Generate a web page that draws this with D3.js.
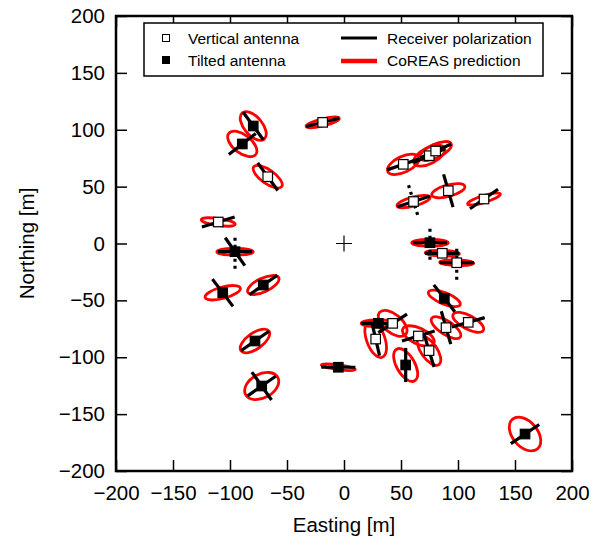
<!DOCTYPE html>
<html>
<head>
<meta charset="utf-8">
<script src="https://cdn.jsdelivr.net/npm/d3@7"></script>
<style>
body { margin: 0; background: #fff; }
text { font-family: "Liberation Sans", Arial, Helvetica, sans-serif; fill: #000; }
</style>
</head>
<body>
<script>
// station positions [m]
var stationX = [-18.7, -79.6, -89.2, -66.9, 52.0, 74.8, 80.4, 91.5, 61.0, 122.8,
                75.4, 86.2, 98.9, 88.0, 109.0, 89.5, 30.1, 27.8, 42.7, 65.2,
                74.6, 54.1, -78.1, -72.2, -5.0, -110.3, -95.6, -106.4, -70.8, 158.8];
var stationY = [106.5, 103.3, 87.5, 58.7, 69.6, 77.2, 81.3, 46.4, 36.9, 39.1,
                0.7, -8.6, -16.9, -48.2, -69.3, -74.0, -70.2, -84.0, -70.2, -81.3,
                -94.2, -106.8, -85.7, -125.3, -108.8, 18.9, -7.2, -43.3, -36.5, -167.5];
// V = vertical antenna, T = tilted antenna
var stationType = ["V","T","T","V","V","V","V","V","V","V",
                   "T","V","V","T","V","V","T","V","V","V",
                   "V","T","T","T","T","V","T","T","T","T"];
// measured receiver polarization [deg from east]
var polAngle = [14, -54, 38, -54, 19, 24, 24, -74, 18, 35,
                0, 0, 0, -52, 16, -74, 0, -77, 33, 17,
                -73, 90, 35, -55, 0, 17, 0, -53, 35, 34];
var polAngle2 = [null, null, null, null, null, null, null, null, null, null,
                 null, null, null, null, null, null, null, null, null, null,
                 null, null, null, 35, null, null, -55, null, null, null];
var dotAngle = [null, null, null, null, null, null, null, null, -73, null,
                90, null, 90, null, null, null, null, null, null, null,
                null, null, null, null, null, null, 90, null, null, null];
// CoREAS prediction ellipse
var ellAngle = [14, -50, -38, -35, 25, 27, 25, 15, 15, 17,
                0, -2, -2, -22, -28, -33, 0, -70, -40, -25,
                -55, -60, 35, 28, -8, -8, 0, 15, 25, -50];
var ellMajor = [15, 15, 15, 15, 15, 15, 15, 15, 15, 15,
                16, 15, 15, 15, 15, 15, 15, 17, 15, 15,
                15, 16, 15, 16, 15, 15, 16, 16, 15, 17];
var ellMinor = [3, 8, 8, 6, 7, 7, 6, 5, 4, 3,
                3, 2.5, 2.5, 5, 6, 6, 3, 8, 8, 7,
                7, 8, 7, 10.5, 2, 3, 3, 5, 6, 11];

var tickValues = [-200, -150, -100, -50, 0, 50, 100, 150, 200];

(function(){
    var width = 605, height = 540,
        pLeft = 116, pRight = 572, pTop = 16, pBottom = 471,
        halfLen = 15;

    var svg = d3.select("body").append("svg")
        .attr("width", width)
        .attr("height", height);

    var x = d3.scaleLinear().domain([-200, 200]).range([pLeft, pRight]);
    var y = d3.scaleLinear().domain([-200, 200]).range([pBottom, pTop]);

    var stations = stationX.map(function(d, i){
        return {x: d, y: stationY[i], type: stationType[i], pol: polAngle[i],
                pol2: polAngle2[i], dot: dotAngle[i], ea: ellAngle[i],
                a: ellMajor[i], b: ellMinor[i]};
    });

    // axes with inward ticks
    function styleAxis(g){
        g.select(".domain").remove();
        g.selectAll(".tick line").attr("stroke", "#000").attr("stroke-width", 1.5);
        g.selectAll(".tick text").style("font-size", "20.5px")
            .style("font-family", "'Liberation Sans', Arial, sans-serif");
    }
    svg.append("g").attr("transform", "translate(0," + pBottom + ")")
        .call(d3.axisBottom(x).tickValues(tickValues).tickSizeInner(-11).tickSizeOuter(0).tickPadding(14))
        .call(styleAxis);
    svg.append("g").attr("transform", "translate(" + pLeft + ",0)")
        .call(d3.axisLeft(y).tickValues(tickValues).tickSizeInner(-11).tickSizeOuter(0).tickPadding(11))
        .call(styleAxis);
    svg.append("g").attr("transform", "translate(0," + pTop + ")")
        .call(d3.axisTop(x).tickValues(tickValues).tickSizeInner(-11).tickSizeOuter(0).tickFormat(""))
        .call(styleAxis);
    svg.append("g").attr("transform", "translate(" + pRight + ",0)")
        .call(d3.axisRight(y).tickValues(tickValues).tickSizeInner(-11).tickSizeOuter(0).tickFormat(""))
        .call(styleAxis);

    svg.append("rect")
        .attr("x", pLeft).attr("y", pTop)
        .attr("width", pRight - pLeft).attr("height", pBottom - pTop)
        .attr("fill", "none").attr("stroke", "#000").attr("stroke-width", 2.5);

    // axis titles
    svg.append("text")
        .attr("x", (pLeft + pRight) / 2).attr("y", 532)
        .attr("text-anchor", "middle")
        .style("font-size", "20.5px")
        .text("Easting [m]");
    svg.append("text")
        .attr("transform", "translate(34," + ((pTop + pBottom) / 2) + ")rotate(-90)")
        .attr("text-anchor", "middle")
        .style("font-size", "20.5px")
        .text("Northing [m]");

    // shower core cross
    svg.append("path")
        .attr("d", "M" + (x(0) - 8) + "," + y(0) + "H" + (x(0) + 8) +
                   "M" + x(0) + "," + (y(0) - 8) + "V" + (y(0) + 8))
        .attr("stroke", "#000").attr("stroke-width", 1.2);

    // CoREAS ellipses
    svg.selectAll(".ell")
        .data(stations)
        .enter()
        .append("ellipse")
        .attr("class", "ell")
        .attr("cx", 0).attr("cy", 0)
        .attr("rx", function(d){ return x(d.a) - x(0); })
        .attr("ry", function(d){ return y(0) - y(d.b); })
        .attr("transform", function(d){
            return "translate(" + x(d.x) + "," + y(d.y) + ")rotate(" + (-d.ea) + ")";
        })
        .attr("fill", "none")
        .attr("stroke", "#f00")
        .attr("stroke-width", 2.8);

    function polLine(d, ang){
        var r = ang * Math.PI / 180,
            dx = halfLen * Math.cos(r), dy = halfLen * Math.sin(r);
        return "M" + x(d.x - dx) + "," + y(d.y - dy) + "L" + x(d.x + dx) + "," + y(d.y + dy);
    }

    // dotted directions
    svg.selectAll(".dot")
        .data(stations.filter(function(d){ return d.dot !== null; }))
        .enter()
        .append("path")
        .attr("class", "dot")
        .attr("d", function(d){ return polLine(d, d.dot); })
        .attr("stroke", "#000")
        .attr("stroke-width", 3.2)
        .attr("stroke-dasharray", "3,4");

    // receiver polarization
    svg.selectAll(".pol")
        .data(stations)
        .enter()
        .append("path")
        .attr("class", "pol")
        .attr("d", function(d){ return polLine(d, d.pol); })
        .attr("stroke", "#000")
        .attr("stroke-width", 3.2);

    svg.selectAll(".pol2")
        .data(stations.filter(function(d){ return d.pol2 !== null; }))
        .enter()
        .append("path")
        .attr("class", "pol2")
        .attr("d", function(d){ return polLine(d, d.pol2); })
        .attr("stroke", "#000")
        .attr("stroke-width", 3.2);

    // antenna markers
    var ms = 9.5;
    svg.selectAll(".ant")
        .data(stations)
        .enter()
        .append("rect")
        .attr("class", "ant")
        .attr("x", function(d){ return x(d.x) - ms / 2; })
        .attr("y", function(d){ return y(d.y) - ms / 2; })
        .attr("width", ms).attr("height", ms)
        .attr("fill", function(d){ return d.type === "V" ? "#fff" : "#000"; })
        .attr("stroke", "#000")
        .attr("stroke-width", 1.2);

    // legend
    var legend = svg.append("g");
    legend.append("rect")
        .attr("x", 144).attr("y", 23).attr("width", 399).attr("height", 53)
        .attr("fill", "#fff").attr("stroke", "#000").attr("stroke-width", 1.5);
    legend.append("rect")
        .attr("x", 162.5).attr("y", 34.5).attr("width", 7).attr("height", 7)
        .attr("fill", "#fff").attr("stroke", "#000").attr("stroke-width", 1);
    legend.append("rect")
        .attr("x", 162.5).attr("y", 56.5).attr("width", 7).attr("height", 7)
        .attr("fill", "#000").attr("stroke", "#000").attr("stroke-width", 1);
    legend.append("line")
        .attr("x1", 341).attr("x2", 377).attr("y1", 38).attr("y2", 38)
        .attr("stroke", "#000").attr("stroke-width", 3);
    legend.append("line")
        .attr("x1", 341).attr("x2", 377).attr("y1", 61).attr("y2", 61)
        .attr("stroke", "#f00").attr("stroke-width", 4.5);
    var legText = [["Vertical antenna", 188, 43.5], ["Tilted antenna", 188, 65.5],
                   ["Receiver polarization", 387, 43.5], ["CoREAS prediction", 387, 65.5]];
    legend.selectAll(".legtext")
        .data(legText)
        .enter()
        .append("text")
        .attr("x", function(d){ return d[1]; })
        .attr("y", function(d){ return d[2]; })
        .style("font-size", "15.5px")
        .text(function(d){ return d[0]; });
})();
</script>
</body>
</html>
